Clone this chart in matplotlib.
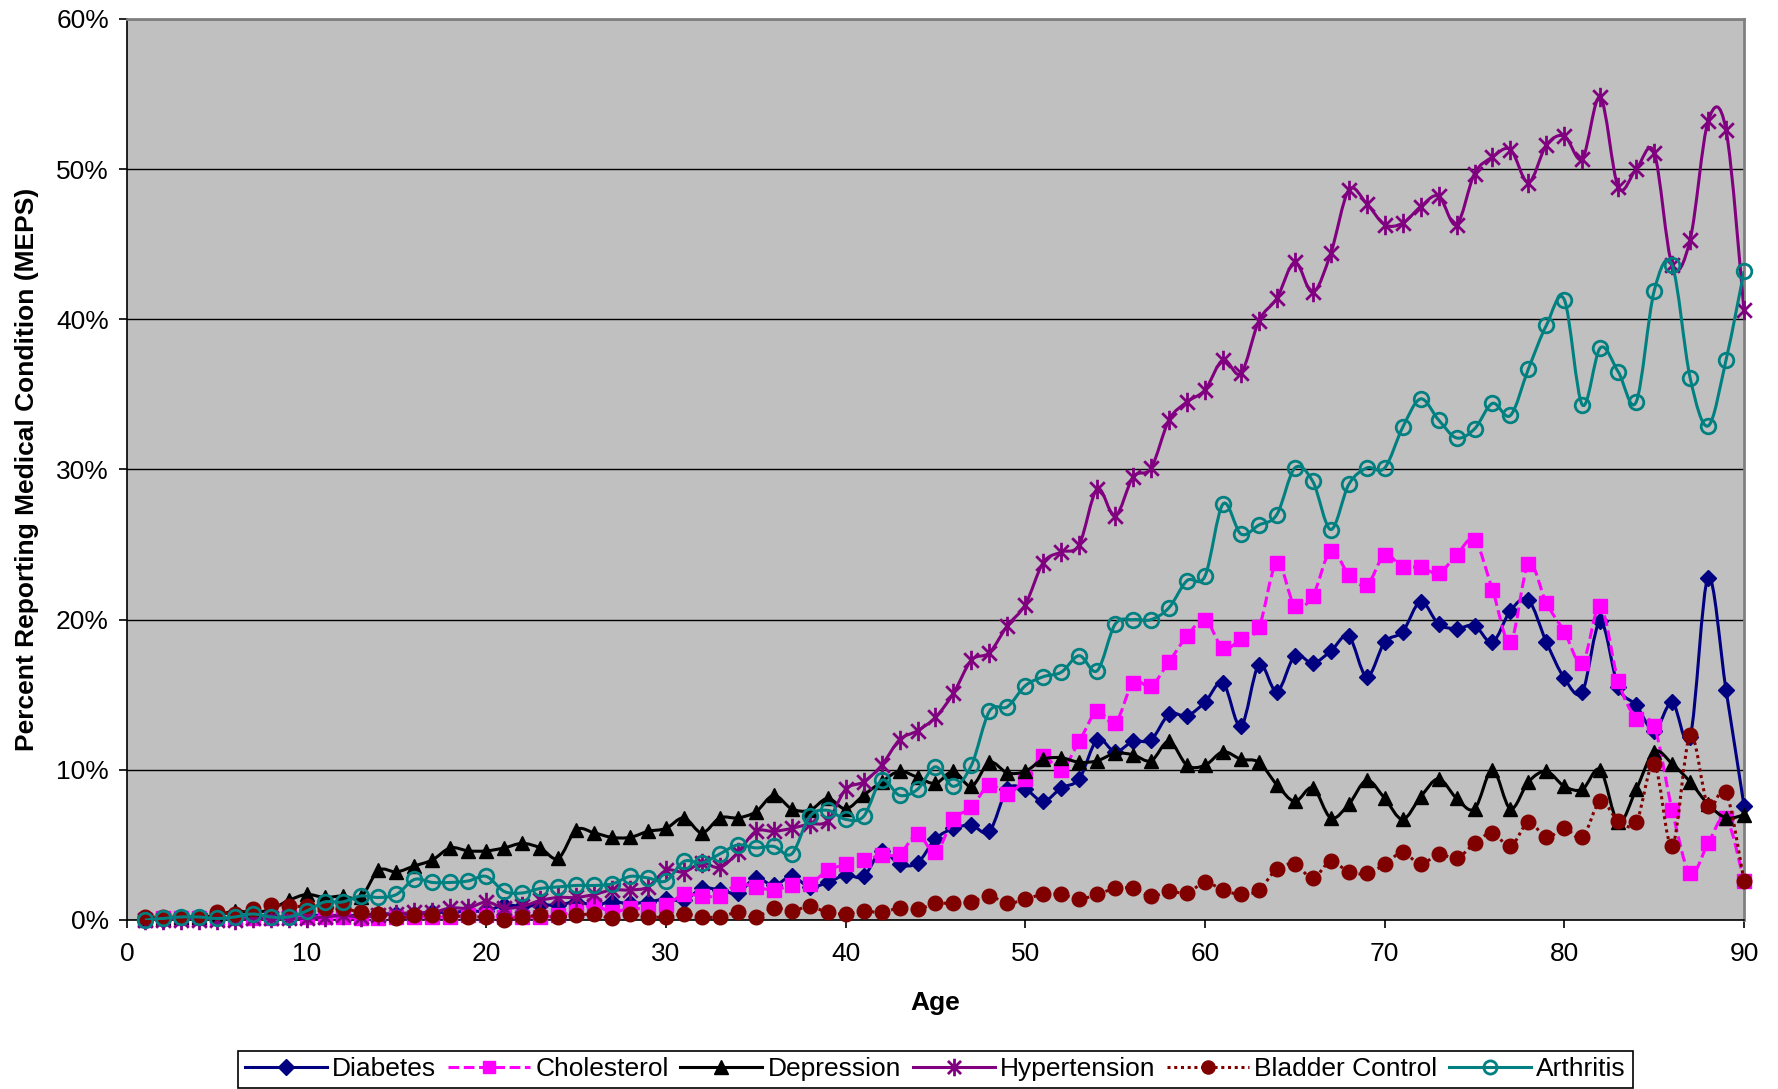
"""
Prevalence of reported medical conditions by age (MEPS)
Smoothed line chart, one series per condition
"""

import numpy as np
import matplotlib
matplotlib.use('Agg')
import matplotlib.pyplot as plt
from matplotlib.path import Path
from matplotlib.patches import PathPatch
from matplotlib.lines import Line2D
from matplotlib.ticker import FuncFormatter

plt.rcParams['font.family'] = ['Liberation Sans', 'DejaVu Sans']

ages = list(range(1, 91))

# percent reporting each condition, ages 1..90
diabetes = [
    0.0, 0.0, 0.1, 0.1, 0.1, 0.1, 0.2, 0.2, 0.2, 0.3,
    0.3, 0.3, 0.3, 0.4, 0.4, 0.4, 0.5, 0.5, 0.6, 0.6,
    1.0, 0.9, 1.0, 1.0, 1.2, 1.0, 1.2, 1.1, 1.2, 1.4,
    1.3, 2.1, 2.0, 1.8, 2.8, 2.3, 2.9, 2.2, 2.5, 3.0,
    2.9, 4.6, 3.7, 3.8, 5.4, 6.1, 6.3, 5.9, 8.7, 8.7,
    7.9, 8.8, 9.4, 12.0, 11.2, 11.9, 12.0, 13.7, 13.6, 14.5,
    15.8, 12.9, 17.0, 15.2, 17.6, 17.1, 17.9, 18.9, 16.2, 18.5,
    19.2, 21.2, 19.7, 19.4, 19.6, 18.5, 20.6, 21.3, 18.5, 16.1,
    15.2, 19.9, 15.5, 14.3, 12.6, 14.5, 12.2, 22.8, 15.3, 7.6,
]
cholesterol = [
    0.0, 0.1, 0.1, 0.1, 0.1, 0.1, 0.1, 0.1, 0.2, 0.2,
    0.2, 0.2, 0.1, 0.1, 0.2, 0.2, 0.2, 0.2, 0.3, 0.3,
    0.2, 0.2, 0.2, 0.3, 0.6, 1.0, 0.5, 0.8, 0.7, 1.0,
    1.7, 1.6, 1.6, 2.4, 2.2, 2.0, 2.3, 2.4, 3.3, 3.7,
    4.0, 4.3, 4.4, 5.7, 4.5, 6.7, 7.5, 9.0, 8.4, 9.4,
    10.9, 10.0, 11.9, 13.9, 13.1, 15.8, 15.6, 17.2, 18.9, 20.0,
    18.1, 18.7, 19.5, 23.8, 20.9, 21.6, 24.6, 23.0, 22.3, 24.3,
    23.5, 23.5, 23.1, 24.3, 25.3, 22.0, 18.5, 23.7, 21.1, 19.2,
    17.1, 20.9, 15.9, 13.4, 12.9, 7.3, 3.1, 5.1, 6.8, 2.6,
]
depression = [
    0.1, 0.1, 0.2, 0.2, 0.3, 0.6, 0.5, 0.7, 1.3, 1.7,
    1.5, 1.6, 1.5, 3.3, 3.2, 3.6, 4.0, 4.8, 4.6, 4.6,
    4.8, 5.1, 4.8, 4.1, 6.0, 5.8, 5.5, 5.5, 5.9, 6.1,
    6.8, 5.8, 6.8, 6.8, 7.2, 8.3, 7.4, 7.3, 8.1, 7.4,
    8.3, 9.2, 9.9, 9.5, 9.1, 9.9, 8.9, 10.5, 9.8, 9.9,
    10.7, 10.8, 10.5, 10.6, 11.1, 11.0, 10.6, 11.9, 10.3, 10.3,
    11.2, 10.7, 10.5, 9.0, 7.9, 8.8, 6.8, 7.7, 9.3, 8.1,
    6.7, 8.2, 9.4, 8.1, 7.4, 10.0, 7.4, 9.2, 9.9, 8.9,
    8.7, 10.0, 6.5, 8.7, 11.2, 10.4, 9.2, 7.7, 6.8, 7.0,
]
hypertension = [
    0.0, 0.0, 0.0, 0.0, 0.0, 0.0, 0.1, 0.1, 0.1, 0.1,
    0.2, 0.3, 0.2, 0.3, 0.4, 0.5, 0.5, 0.8, 0.8, 1.2,
    0.8, 0.9, 1.3, 1.5, 1.5, 1.7, 2.0, 2.0, 2.2, 3.3,
    3.2, 3.8, 3.5, 4.5, 5.9, 5.9, 6.1, 6.4, 6.6, 8.7,
    9.2, 10.3, 12.0, 12.6, 13.5, 15.1, 17.3, 17.8, 19.6, 21.0,
    23.8, 24.5, 25.0, 28.7, 26.9, 29.5, 30.1, 33.3, 34.5, 35.3,
    37.3, 36.4, 39.9, 41.4, 43.8, 41.8, 44.4, 48.6, 47.7, 46.3,
    46.4, 47.5, 48.2, 46.3, 49.7, 50.8, 51.3, 49.1, 51.6, 52.2,
    50.7, 54.8, 48.8, 50.0, 51.1, 43.6, 45.3, 53.2, 52.6, 40.6,
]
bladder_control = [
    0.2, 0.2, 0.2, 0.2, 0.5, 0.4, 0.7, 1.0, 0.9, 0.9,
    0.8, 0.8, 0.5, 0.4, 0.1, 0.3, 0.3, 0.3, 0.2, 0.2,
    0.0, 0.2, 0.3, 0.2, 0.3, 0.4, 0.1, 0.4, 0.2, 0.2,
    0.4, 0.2, 0.2, 0.5, 0.2, 0.8, 0.6, 0.9, 0.5, 0.4,
    0.6, 0.5, 0.8, 0.7, 1.1, 1.1, 1.2, 1.6, 1.1, 1.4,
    1.7, 1.7, 1.4, 1.7, 2.1, 2.1, 1.6, 1.9, 1.8, 2.5,
    2.0, 1.7, 2.0, 3.4, 3.7, 2.8, 3.9, 3.2, 3.1, 3.7,
    4.5, 3.7, 4.4, 4.1, 5.1, 5.8, 4.9, 6.5, 5.5, 6.1,
    5.5, 7.9, 6.6, 6.5, 10.4, 4.9, 12.3, 7.6, 8.5, 2.6,
]
arthritis = [
    0.0, 0.1, 0.2, 0.2, 0.1, 0.2, 0.4, 0.2, 0.2, 0.6,
    1.2, 1.2, 1.6, 1.5, 1.7, 2.7, 2.5, 2.5, 2.6, 2.9,
    1.9, 1.8, 2.1, 2.2, 2.3, 2.3, 2.4, 2.9, 2.8, 2.6,
    3.9, 3.8, 4.4, 5.0, 4.8, 4.9, 4.4, 6.9, 7.3, 6.7,
    6.9, 9.3, 8.3, 8.7, 10.2, 8.9, 10.3, 13.9, 14.2, 15.6,
    16.2, 16.5, 17.6, 16.6, 19.7, 20.0, 20.0, 20.8, 22.6, 22.9,
    27.7, 25.7, 26.3, 27.0, 30.1, 29.2, 26.0, 29.0, 30.1, 30.1,
    32.8, 34.7, 33.3, 32.1, 32.7, 34.4, 33.6, 36.7, 39.6, 41.3,
    34.3, 38.1, 36.5, 34.5, 41.9, 43.6, 36.1, 32.9, 37.3, 43.2,
]

labels = ['Diabetes', 'Cholesterol', 'Depression', 'Hypertension',
          'Bladder Control', 'Arthritis']

# asterisk marker: vertical bar plus an x
STAR = Path([(0, -1), (0, 1), (-0.75, -0.75), (0.75, 0.75), (-0.75, 0.75), (0.75, -0.75)],
            [Path.MOVETO, Path.LINETO, Path.MOVETO, Path.LINETO, Path.MOVETO, Path.LINETO])

styles = [
    dict(color='#000080', ls='-', marker='D', ms=8.5, mfc='#000080', mew=1),
    dict(color='#FF00FF', ls=(0, (3.5, 1.5)), marker='s', ms=10, mfc='#FF00FF', mew=1),
    dict(color='#000000', ls='-', marker='^', ms=10.5, mfc='#000000', mew=1),
    dict(color='#800080', ls='-', marker=STAR, ms=14, mfc='none', mew=2),
    dict(color='#800000', ls=(0, (1, 1.2)), marker='o', ms=10.5, mfc='#800000', mew=1),
    dict(color='#008080', ls='-', marker='o', ms=10.5, mfc='none', mew=2),
]


def smooth_path(x, y):
    """Catmull-Rom curve through the points, as cubic Bezier segments"""
    pts = np.column_stack([x, y]).astype(float)
    padded = np.vstack([pts[:1], pts, pts[-1:]])
    verts = [pts[0]]
    codes = [Path.MOVETO]
    for i in range(len(pts) - 1):
        p0, p1, p2, p3 = padded[i], padded[i + 1], padded[i + 2], padded[i + 3]
        verts += [p1 + (p2 - p0) / 6.0, p2 - (p3 - p1) / 6.0, p2]
        codes += [Path.CURVE4] * 3
    return Path(verts, codes)


def tracer():
    fig = plt.figure(figsize=(17.78, 10.89), dpi=100)
    ax = fig.add_axes([0.0714, 0.1552, 0.9095, 0.8274])
    ax.set_facecolor('#C0C0C0')

    series = [diabetes, cholesterol, depression, hypertension, bladder_control, arthritis]
    handles = []
    for z, (vals, st, lab) in enumerate(zip(series, styles, labels)):
        y = np.array(vals) / 100.0
        patch = PathPatch(smooth_path(ages, y), fill=False, edgecolor=st['color'],
                          linewidth=2.2, linestyle=st['ls'], capstyle='butt',
                          zorder=3 + z * 0.1)
        ax.add_patch(patch)
        ax.plot(ages, y, ls='none', marker=st['marker'], ms=st['ms'],
                mfc=st['mfc'], mec=st['color'], mew=st['mew'],
                zorder=3.05 + z * 0.1, clip_on=False)
        handles.append(Line2D([], [], color=st['color'], lw=2.2, ls=st['ls'],
                              marker=st['marker'], ms=st['ms'] * 0.9, mfc=st['mfc'],
                              mec=st['color'], mew=st['mew']))

    ax.set_xlim(0, 90)
    ax.set_ylim(0, 0.6)
    ax.set_xticks(range(0, 91, 10))
    ax.set_yticks(np.arange(0, 0.61, 0.1))
    ax.yaxis.set_major_formatter(FuncFormatter(lambda v, _: f'{v * 100:.0f}%'))
    ax.tick_params(axis='both', labelsize=19, length=6, width=1.2, direction='out', color='black')
    ax.tick_params(axis='x', pad=10)
    ax.tick_params(axis='y', pad=7)
    ax.grid(True, axis='y', color='black', linewidth=1)
    ax.set_axisbelow(True)

    for side in ['top', 'right']:
        ax.spines[side].set_color('#808080')
        ax.spines[side].set_linewidth(2)
    for side in ['left', 'bottom']:
        ax.spines[side].set_color('black')
        ax.spines[side].set_linewidth(1.2)

    ax.set_xlabel('Age', fontsize=19, weight='bold', labelpad=18)
    ax.set_ylabel('Percent Reporting Medical Condition (MEPS)', fontsize=19,
                  weight='bold', labelpad=12)

    leg = ax.legend(handles, labels, loc='upper center', bbox_to_anchor=(0.5, -0.145),
                    ncol=6, fontsize=19, frameon=True, fancybox=False, framealpha=1,
                    edgecolor='black', borderaxespad=0, handlelength=3.1,
                    handletextpad=0.2, columnspacing=0.45, borderpad=0.25)
    leg.get_frame().set_linewidth(1.2)

    fig.savefig('out.png', dpi=100)
    plt.close(fig)


if __name__ == '__main__':
    tracer()
